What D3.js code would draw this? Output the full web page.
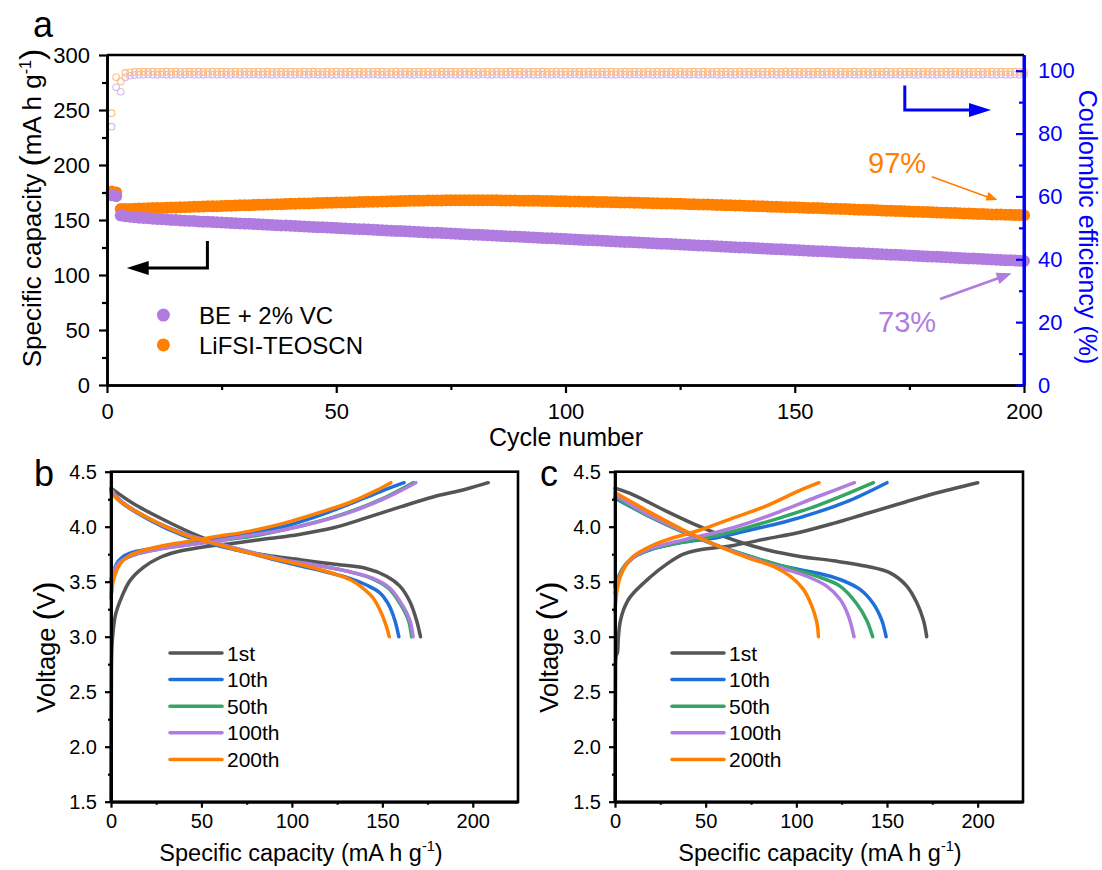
<!DOCTYPE html>
<html>
<head>
<meta charset="utf-8">
<script src="https://cdn.jsdelivr.net/npm/d3@7"></script>
<style>
  body { margin: 0; background: #fff; }
  text { font-family: "Liberation Sans", Arial, sans-serif; }
</style>
</head>
<body>
<svg id="fig" width="1102" height="870"></svg>
<script>
// ---------- panel a: cycling data ----------
var cycles = d3.range(1, 201);

var capBE = [
  172.5, 171.5, 154.0, 153.4, 152.9, 152.5, 152.1, 151.8, 151.5, 151.2,
  150.9, 150.6, 150.4, 150.1, 149.9, 149.6, 149.4, 149.2, 149.0, 148.7,
  148.5, 148.3, 148.1, 147.9, 147.7, 147.5, 147.3, 147.1, 146.9, 146.7,
  146.5, 146.3, 146.1, 145.9, 145.7, 145.5, 145.3, 145.1, 144.9, 144.7,
  144.5, 144.3, 144.1, 143.9, 143.7, 143.5, 143.3, 143.1, 142.9, 142.7,
  142.5, 142.3, 142.1, 141.9, 141.7, 141.5, 141.3, 141.1, 140.9, 140.7,
  140.5, 140.3, 140.1, 139.9, 139.7, 139.5, 139.3, 139.1, 138.9, 138.7,
  138.5, 138.3, 138.1, 137.9, 137.7, 137.5, 137.3, 137.1, 136.9, 136.7,
  136.5, 136.3, 136.1, 135.9, 135.7, 135.5, 135.3, 135.1, 134.9, 134.7,
  134.5, 134.3, 134.1, 133.9, 133.7, 133.5, 133.3, 133.1, 132.9, 132.7,
  132.5, 132.3, 132.1, 131.9, 131.7, 131.5, 131.3, 131.1, 130.9, 130.7,
  130.5, 130.3, 130.1, 129.9, 129.7, 129.5, 129.3, 129.1, 128.9, 128.7,
  128.5, 128.3, 128.1, 127.9, 127.7, 127.5, 127.3, 127.1, 126.9, 126.7,
  126.5, 126.3, 126.1, 125.9, 125.7, 125.5, 125.3, 125.1, 124.9, 124.7,
  124.5, 124.3, 124.1, 123.9, 123.7, 123.5, 123.3, 123.1, 122.9, 122.7,
  122.5, 122.3, 122.1, 121.9, 121.7, 121.5, 121.3, 121.1, 120.9, 120.7,
  120.5, 120.3, 120.1, 119.9, 119.7, 119.5, 119.3, 119.1, 118.9, 118.7,
  118.5, 118.3, 118.1, 117.9, 117.7, 117.5, 117.3, 117.1, 116.9, 116.7,
  116.5, 116.3, 116.1, 115.9, 115.7, 115.5, 115.3, 115.1, 114.9, 114.7,
  114.5, 114.3, 114.1, 113.9, 113.7, 113.5, 113.3, 113.1, 112.9, 112.7
];

var capLi = [
  176.0, 175.0, 160.0, 160.0, 160.1, 160.2, 160.4, 160.5, 160.6, 160.8,
  160.9, 161.0, 161.2, 161.3, 161.4, 161.6, 161.7, 161.8, 162.0, 162.1,
  162.2, 162.4, 162.5, 162.6, 162.8, 162.9, 163.0, 163.2, 163.3, 163.4,
  163.5, 163.7, 163.8, 163.9, 164.0, 164.2, 164.3, 164.4, 164.5, 164.7,
  164.8, 164.9, 165.0, 165.1, 165.3, 165.4, 165.5, 165.6, 165.7, 165.8,
  165.9, 166.0, 166.1, 166.2, 166.3, 166.4, 166.5, 166.6, 166.7, 166.8,
  166.9, 167.0, 167.1, 167.2, 167.3, 167.4, 167.4, 167.5, 167.6, 167.7,
  167.7, 167.8, 167.8, 167.9, 167.9, 168.0, 168.0, 168.0, 168.0, 168.0,
  168.0, 168.0, 167.9, 167.9, 167.9, 167.8, 167.8, 167.7, 167.7, 167.6,
  167.6, 167.5, 167.5, 167.4, 167.3, 167.3, 167.2, 167.1, 167.1, 167.0,
  166.9, 166.8, 166.8, 166.7, 166.6, 166.5, 166.4, 166.4, 166.3, 166.2,
  166.1, 166.0, 165.9, 165.8, 165.7, 165.6, 165.5, 165.4, 165.3, 165.2,
  165.1, 165.0, 164.9, 164.8, 164.7, 164.5, 164.4, 164.3, 164.2, 164.1,
  164.0, 163.8, 163.7, 163.6, 163.5, 163.3, 163.2, 163.1, 162.9, 162.8,
  162.7, 162.5, 162.4, 162.3, 162.1, 162.0, 161.9, 161.7, 161.6, 161.5,
  161.3, 161.2, 161.0, 160.9, 160.8, 160.6, 160.5, 160.3, 160.2, 160.0,
  159.9, 159.7, 159.6, 159.4, 159.3, 159.1, 159.0, 158.8, 158.7, 158.5,
  158.4, 158.2, 158.1, 157.9, 157.8, 157.6, 157.5, 157.3, 157.2, 157.0,
  156.9, 156.7, 156.6, 156.4, 156.3, 156.1, 156.0, 155.8, 155.7, 155.5,
  155.4, 155.3, 155.1, 155.0, 154.9, 154.8, 154.7, 154.6, 154.5, 154.4
];

var ceBE = [
  82.2, 94.7, 93.3, 97.9, 98.4, 98.6, 98.7, 98.7, 98.8, 98.7, 98.7, 98.8, 98.7, 98.7, 98.8, 98.7, 98.7, 98.8, 98.7, 98.7,
  98.7, 98.8, 98.7, 98.7, 98.8, 98.7, 98.7, 98.8, 98.7, 98.7, 98.7, 98.8, 98.7, 98.7, 98.8, 98.7, 98.7, 98.8, 98.7, 98.7,
  98.7, 98.8, 98.7, 98.7, 98.8, 98.7, 98.7, 98.8, 98.7, 98.7, 98.7, 98.8, 98.7, 98.7, 98.8, 98.7, 98.7, 98.8, 98.7, 98.7,
  98.7, 98.8, 98.7, 98.7, 98.8, 98.7, 98.7, 98.8, 98.7, 98.7, 98.7, 98.8, 98.7, 98.7, 98.8, 98.7, 98.7, 98.8, 98.7, 98.7,
  98.7, 98.8, 98.7, 98.7, 98.8, 98.7, 98.7, 98.8, 98.7, 98.7, 98.7, 98.8, 98.7, 98.7, 98.8, 98.7, 98.7, 98.8, 98.7, 98.7,
  98.7, 98.8, 98.7, 98.7, 98.8, 98.7, 98.7, 98.8, 98.7, 98.7, 98.7, 98.8, 98.7, 98.7, 98.8, 98.7, 98.7, 98.8, 98.7, 98.7,
  98.7, 98.8, 98.7, 98.7, 98.8, 98.7, 98.7, 98.8, 98.7, 98.7, 98.7, 98.8, 98.7, 98.7, 98.8, 98.7, 98.7, 98.8, 98.7, 98.7,
  98.7, 98.8, 98.7, 98.7, 98.8, 98.7, 98.7, 98.8, 98.7, 98.7, 98.7, 98.8, 98.7, 98.7, 98.8, 98.7, 98.7, 98.8, 98.7, 98.7,
  98.7, 98.8, 98.7, 98.7, 98.8, 98.7, 98.7, 98.8, 98.7, 98.7, 98.7, 98.8, 98.7, 98.7, 98.8, 98.7, 98.7, 98.8, 98.7, 98.7,
  98.7, 98.8, 98.7, 98.7, 98.8, 98.7, 98.7, 98.8, 98.7, 98.7, 98.7, 98.8, 98.7, 98.7, 98.8, 98.7, 98.7, 98.8, 98.7, 98.7
];

var ceLi = [
  86.5, 97.9, 96.6, 99.3, 99.5, 99.6, 99.6, 99.7, 99.6, 99.7, 99.6, 99.6, 99.7, 99.6, 99.7, 99.6, 99.6, 99.7, 99.6, 99.7,
  99.6, 99.6, 99.7, 99.6, 99.7, 99.6, 99.6, 99.7, 99.6, 99.7, 99.6, 99.6, 99.7, 99.6, 99.7, 99.6, 99.6, 99.7, 99.6, 99.7,
  99.6, 99.6, 99.7, 99.6, 99.7, 99.6, 99.6, 99.7, 99.6, 99.7, 99.6, 99.6, 99.7, 99.6, 99.7, 99.6, 99.6, 99.7, 99.6, 99.7,
  99.6, 99.6, 99.7, 99.6, 99.7, 99.6, 99.6, 99.7, 99.6, 99.7, 99.6, 99.6, 99.7, 99.6, 99.7, 99.6, 99.6, 99.7, 99.6, 99.7,
  99.6, 99.6, 99.7, 99.6, 99.7, 99.6, 99.6, 99.7, 99.6, 99.7, 99.6, 99.6, 99.7, 99.6, 99.7, 99.6, 99.6, 99.7, 99.6, 99.7,
  99.6, 99.6, 99.7, 99.6, 99.7, 99.6, 99.6, 99.7, 99.6, 99.7, 99.6, 99.6, 99.7, 99.6, 99.7, 99.6, 99.6, 99.7, 99.6, 99.7,
  99.6, 99.6, 99.7, 99.6, 99.7, 99.6, 99.6, 99.7, 99.6, 99.7, 99.6, 99.6, 99.7, 99.6, 99.7, 99.6, 99.6, 99.7, 99.6, 99.7,
  99.6, 99.6, 99.7, 99.6, 99.7, 99.6, 99.6, 99.7, 99.6, 99.7, 99.6, 99.6, 99.7, 99.6, 99.7, 99.6, 99.6, 99.7, 99.6, 99.7,
  99.6, 99.6, 99.7, 99.6, 99.7, 99.6, 99.6, 99.7, 99.6, 99.7, 99.6, 99.6, 99.7, 99.6, 99.7, 99.6, 99.6, 99.7, 99.6, 99.7,
  99.6, 99.6, 99.7, 99.6, 99.7, 99.6, 99.6, 99.7, 99.6, 99.7, 99.6, 99.6, 99.7, 99.6, 99.7, 99.6, 99.6, 99.7, 99.6, 99.7
];

var capTicks = [0, 50, 100, 150, 200, 250, 300];
var capMinor = [25, 75, 125, 175, 225, 275];
var cycTicks = [0, 50, 100, 150, 200];
var cycMinor = [25, 75, 125, 175];
var ceTicks = [0, 20, 40, 60, 80, 100];
var ceMinor = [10, 30, 50, 70, 90];

// ---------- panel b: BE + 2% VC voltage profiles [capacity, voltage] ----------
var bCh1 = [[0,1.5],[0.2,2.5],[0.4,2.85],[0.9,3.0],[2.5,3.2],[5.9,3.36],[10.5,3.51],[17.9,3.63],[27,3.72],[36,3.77],[49,3.81],[68,3.85],[86,3.89],[104,3.93],[123,3.99],[141,4.08],[160,4.18],[178,4.27],[196,4.34],[208.5,4.4]];
var bDis1 = [[0,4.35],[12.3,4.21],[30.8,4.05],[49.2,3.91],[67.6,3.8],[86,3.74],[104.4,3.7],[122.8,3.66],[141.2,3.62],[152.3,3.55],[159.7,3.46],[165.2,3.32],[168.9,3.15],[171.1,3.0]];
var bCh10 = [[0.3,3.4],[1,3.55],[3,3.66],[6,3.72],[10.5,3.76],[22,3.8],[40,3.85],[58,3.89],[77,3.94],[95,4.0],[113,4.09],[131,4.2],[149,4.32],[162,4.4]];
var bDis10 = [[0,4.33],[5,4.23],[21.5,4.06],[40,3.92],[58.4,3.83],[76.8,3.76],[95.2,3.68],[113.6,3.61],[132,3.53],[141.2,3.47],[148.6,3.4],[153.2,3.3],[156.9,3.15],[159.1,3.0]];
var bCh50 = [[0,3.5],[1.5,3.6],[5,3.68],[10.5,3.73],[21.5,3.78],[40,3.83],[58,3.87],[77,3.91],[95,3.97],[113,4.04],[131,4.13],[149.5,4.25],[167,4.4]];
var bDis50 = [[0,4.34],[5,4.24],[21.5,4.07],[40,3.94],[58.4,3.85],[76.8,3.77],[95.2,3.7],[113.6,3.65],[132,3.59],[144,3.53],[153.4,3.44],[159.8,3.3],[164.4,3.15],[166.2,3.0]];
var bCh100 = [[0,3.52],[1.5,3.6],[5,3.68],[10.5,3.73],[21.5,3.78],[40,3.83],[58,3.87],[77,3.92],[95,3.97],[113.6,4.04],[132,4.13],[150.5,4.25],[168.5,4.4]];
var bDis100 = [[0,4.34],[5,4.24],[21.5,4.07],[40,3.94],[58.4,3.85],[76.8,3.77],[95.2,3.7],[113.6,3.65],[132,3.59],[144.9,3.53],[154.2,3.44],[160.6,3.3],[165.2,3.15],[167,3.0]];
var bCh200 = [[0,3.35],[1.3,3.51],[5,3.66],[10.5,3.74],[21.5,3.8],[40,3.86],[58.4,3.91],[76.8,3.96],[95.2,4.03],[113.6,4.12],[132,4.22],[146.8,4.33],[154.7,4.4]];
var bDis200 = [[0,4.31],[5,4.23],[21.5,4.07],[40,3.93],[58.4,3.84],[76.8,3.76],[95.2,3.69],[113.6,3.62],[132,3.52],[139.4,3.44],[145,3.35],[149.6,3.21],[152.3,3.09],[153.8,3.0]];

// ---------- panel c: LiFSI-TEOSCN voltage profiles ----------
var cCh1 = [[0,1.5],[0.3,2.6],[0.6,2.82],[1.4,2.86],[1.8,2.98],[2.8,3.13],[4.6,3.24],[8.3,3.36],[19.3,3.54],[28.5,3.66],[37.7,3.75],[46.9,3.79],[65.3,3.83],[83.6,3.89],[102,3.95],[120.4,4.03],[138.8,4.12],[157.2,4.21],[175.6,4.3],[200,4.4]];
var cDis1 = [[0,4.35],[10.1,4.29],[28.5,4.14],[46.9,4.0],[65.3,3.88],[83.6,3.79],[102,3.73],[120.4,3.69],[138.8,3.64],[151.7,3.58],[160.9,3.46],[166.4,3.31],[170.1,3.15],[171.9,3.0]];
var cCh10 = [[0,3.47],[4.6,3.63],[10.1,3.72],[19.3,3.79],[37.7,3.86],[56.1,3.9],[74.5,3.97],[92.8,4.04],[111.2,4.13],[129.6,4.24],[150,4.4]];
var cDis10 = [[0,4.26],[19.3,4.09],[37.7,3.95],[56.1,3.83],[74.5,3.73],[92.8,3.64],[111.2,3.58],[124.1,3.52],[135.1,3.43],[142.5,3.3],[147.1,3.15],[149.5,3.0]];
var cCh50 = [[0,3.45],[4.6,3.63],[10.1,3.72],[19.3,3.79],[37.7,3.86],[56.1,3.92],[74.5,4.0],[92.8,4.09],[111.2,4.19],[129.6,4.31],[142.5,4.4]];
var cDis50 = [[0,4.27],[19.3,4.09],[37.7,3.95],[56.1,3.83],[74.5,3.73],[92.8,3.64],[111.2,3.55],[124.1,3.46],[133.3,3.3],[138.8,3.15],[142.1,3.0]];
var cCh100 = [[0,3.4],[4.6,3.62],[10.1,3.72],[19.3,3.8],[37.7,3.88],[56.1,3.95],[74.5,4.04],[92.8,4.15],[111.2,4.27],[132,4.4]];
var cDis100 = [[0,4.29],[19.3,4.1],[37.7,3.96],[56.1,3.83],[74.5,3.72],[92.8,3.62],[105.7,3.55],[116.7,3.46],[124.1,3.34],[128.7,3.19],[131.8,3.0]];
var cCh200 = [[0,3.23],[1.8,3.48],[4.6,3.61],[10.1,3.73],[19.3,3.82],[28.5,3.88],[46.9,3.97],[65.3,4.08],[83.6,4.19],[102,4.33],[112.5,4.4]];
var cDis200 = [[0,4.31],[19.3,4.13],[37.7,3.97],[56.1,3.83],[74.5,3.71],[87.4,3.64],[96.6,3.55],[103.9,3.43],[108.5,3.28],[111.3,3.13],[112.2,3.0]];

var cycleNames = ["1st", "10th", "50th", "100th", "200th"];
var cycleColors = ["#555555", "#1f6fdb", "#35a566", "#b07ce0", "#ff8000"];
var vTicks = [1.5, 2.0, 2.5, 3.0, 3.5, 4.0, 4.5];
var vMinor = [1.75, 2.25, 2.75, 3.25, 3.75, 4.25];
var sTicks = [0, 50, 100, 150, 200];
var sMinor = [25, 75, 125, 175];

var bCurves = [[bCh1, bDis1], [bCh10, bDis10], [bCh50, bDis50], [bCh100, bDis100], [bCh200, bDis200]];
var cCurves = [[cCh1, cDis1], [cCh10, cDis10], [cCh50, cDis50], [cCh100, cDis100], [cCh200, cDis200]];

var purple = "#b07ce0", orange = "#ff8000", blue = "#0000ff";

var svg = d3.select("#fig");

function styleAxis(g, fs, color) {
  color = color || "#000";
  g.selectAll("path.domain").attr("stroke", color).attr("stroke-width", 2.6);
  g.selectAll(".tick line").attr("stroke", color).attr("stroke-width", 2.2);
  g.selectAll("text").attr("font-size", fs).attr("fill", color)
    .attr("font-family", "'Liberation Sans', Arial, sans-serif");
}

// axis title with big parentheses, e.g. "Voltage (V)"
function parenTitle(t, before, inside, sup) {
  t.append("tspan").text(before + " ");
  t.append("tspan").attr("font-size", "1.3em").attr("dy", 2).text("(");
  t.append("tspan").attr("dy", -2).text(inside);
  if (sup) {
    t.append("tspan").attr("dy", -10).attr("font-size", "0.62em").text(sup);
    t.append("tspan").attr("dy", 12).attr("font-size", "1.3em").text(")");
  } else {
    t.append("tspan").attr("dy", 2).attr("font-size", "1.3em").text(")");
  }
}

function arrowHead(g, x, y, angle, len, half, color) {
  g.append("path")
    .attr("d", "M0,0 L" + (-len) + "," + (-half) + " L" + (-len) + "," + half + "Z")
    .attr("transform", "translate(" + x + "," + y + ") rotate(" + angle + ")")
    .attr("fill", color);
}

// ================= panel a =================
var xA = d3.scaleLinear().domain([0, 200]).range([107, 1024]);
var yA = d3.scaleLinear().domain([0, 300]).range([385, 55]);
var yCE = d3.scaleLinear().domain([0, 105]).range([385, 55]);

var gA = svg.append("g");

// coulombic efficiency (open circles)
gA.append("g").selectAll("circle").data(cycles).enter().append("circle")
  .attr("cx", function (d) { return xA(d); })
  .attr("cy", function (d, i) { return yCE(ceBE[i]); })
  .attr("r", 3.3).attr("fill", "none").attr("stroke", "#d4b9f2").attr("stroke-width", 1.1);
gA.append("g").selectAll("circle").data(cycles).enter().append("circle")
  .attr("cx", function (d) { return xA(d); })
  .attr("cy", function (d, i) { return yCE(ceLi[i]); })
  .attr("r", 3.3).attr("fill", "none").attr("stroke", "#ffbd7d").attr("stroke-width", 1.1);

// specific capacity (filled circles)
gA.append("g").selectAll("circle").data(cycles).enter().append("circle")
  .attr("cx", function (d) { return xA(d); })
  .attr("cy", function (d, i) { return yA(capLi[i]); })
  .attr("r", 6).attr("fill", orange);
gA.append("g").selectAll("circle").data(cycles).enter().append("circle")
  .attr("cx", function (d) { return xA(d); })
  .attr("cy", function (d, i) { return yA(capBE[i]); })
  .attr("r", 6).attr("fill", purple);

// frame top
gA.append("line").attr("x1", 107).attr("x2", 1024).attr("y1", 55).attr("y2", 55)
  .attr("stroke", "#000").attr("stroke-width", 2.6);

// axes
var axL = gA.append("g").attr("transform", "translate(107,0)")
  .call(d3.axisLeft(yA).tickValues(capTicks).tickSize(8).tickPadding(9).tickSizeOuter(0));
styleAxis(axL, 22);
var axLm = gA.append("g").attr("transform", "translate(107,0)")
  .call(d3.axisLeft(yA).tickValues(capMinor).tickSize(5).tickFormat("").tickSizeOuter(0));
styleAxis(axLm, 22);

var axB = gA.append("g").attr("transform", "translate(0,385)")
  .call(d3.axisBottom(xA).tickValues(cycTicks).tickSize(8).tickPadding(10).tickSizeOuter(0));
styleAxis(axB, 22);
var axBm = gA.append("g").attr("transform", "translate(0,385)")
  .call(d3.axisBottom(xA).tickValues(cycMinor).tickSize(5).tickFormat("").tickSizeOuter(0));
styleAxis(axBm, 22);

var axR = gA.append("g").attr("transform", "translate(1024,0)")
  .call(d3.axisRight(yCE).tickValues(ceTicks).tickSize(-8).tickPadding(14).tickSizeOuter(0));
styleAxis(axR, 22, blue);
var axRm = gA.append("g").attr("transform", "translate(1024,0)")
  .call(d3.axisRight(yCE).tickValues(ceMinor).tickSize(-5).tickFormat("").tickSizeOuter(0));
styleAxis(axRm, 22, blue);
gA.append("line").attr("x1", 1024).attr("x2", 1024).attr("y1", 55).attr("y2", 385)
  .attr("stroke", blue).attr("stroke-width", 3);

// titles
gA.append("text").attr("x", 566).attr("y", 446).attr("text-anchor", "middle")
  .attr("font-size", 25).text("Cycle number");
parenTitle(gA.append("text").attr("transform", "translate(41,208) rotate(-90)")
  .attr("text-anchor", "middle").attr("font-size", 26), "Specific capacity", "mA h g", "-1");
gA.append("text").attr("transform", "translate(1079,227) rotate(90)")
  .attr("text-anchor", "middle").attr("font-size", 25).attr("fill", blue)
  .text("Coulombic efficiency (%)");
gA.append("text").attr("x", 33).attr("y", 37).attr("font-size", 36).text("a");

// legend
var legA = [["BE + 2% VC", purple, 63.6], ["LiFSI-TEOSCN", orange, 36.4]];
legA.forEach(function (d) {
  gA.append("circle").attr("cx", xA(12.3)).attr("cy", yA(d[2])).attr("r", 6.5).attr("fill", d[1]);
  gA.append("text").attr("x", 199).attr("y", yA(d[2]) + 9).attr("font-size", 24).text(d[0]);
});

// direction arrows
gA.append("path").attr("fill", "none").attr("stroke", "#000").attr("stroke-width", 3)
  .attr("d", "M" + xA(21.9) + "," + yA(131) + "V" + yA(106.4) + "H" + xA(8));
arrowHead(gA, xA(4.3), yA(106.4), 180, 22, 7, "#000");
gA.append("path").attr("fill", "none").attr("stroke", blue).attr("stroke-width", 3)
  .attr("d", "M" + xA(174) + "," + yCE(95.3) + "V" + yCE(87.5) + "H" + xA(189));
arrowHead(gA, xA(192.8), yCE(87.5), 0, 22, 7, blue);

// retention annotations
gA.append("text").attr("x", 868).attr("y", 173).attr("font-size", 29).attr("fill", orange).text("97%");
gA.append("line").attr("x1", xA(179.9)).attr("y1", yA(189.4)).attr("x2", xA(192.5)).attr("y2", yA(170.2))
  .attr("stroke", orange).attr("stroke-width", 1.6);
arrowHead(gA, xA(194.2), yA(168.2), Math.atan2(23.3, 65) * 180 / Math.PI, 11, 4.5, orange);

gA.append("text").attr("x", 878).attr("y", 332).attr("font-size", 29).attr("fill", purple).text("73%");
gA.append("line").attr("x1", xA(181.7)).attr("y1", yA(78.2)).attr("x2", xA(194.5)).attr("y2", yA(97.3))
  .attr("stroke", purple).attr("stroke-width", 2.6);
arrowHead(gA, xA(197.3), yA(101.5), -Math.atan2(25.7, 71.7) * 180 / Math.PI, 15, 6, purple);

// ================= panels b, c =================
var yV = d3.scaleLinear().domain([1.5, 4.5]).range([801.7, 471.7]);

function voltagePanel(x0, x1, curves, letter, letterX, titleX, xTitleX, legX) {
  var x = d3.scaleLinear().domain([0, 225]).range([x0, x1]);
  var g = svg.append("g");
  var line = d3.line()
    .x(function (d) { return x(d[0]); })
    .y(function (d) { return yV(d[1]); })
    .curve(d3.curveCatmullRom.alpha(0.5));

  curves.forEach(function (pair, i) {
    pair.forEach(function (pts) {
      g.append("path").attr("d", line(pts)).attr("fill", "none")
        .attr("stroke", cycleColors[i]).attr("stroke-width", 3.5)
        .attr("stroke-linecap", "round").attr("stroke-linejoin", "round");
    });
  });

  g.append("rect").attr("x", x0).attr("y", yV(4.5)).attr("width", x1 - x0).attr("height", yV(1.5) - yV(4.5))
    .attr("fill", "none").attr("stroke", "#000").attr("stroke-width", 2.6);

  var aL = g.append("g").attr("transform", "translate(" + x0 + ",0)")
    .call(d3.axisLeft(yV).tickValues(vTicks).tickFormat(d3.format(".1f")).tickSize(6).tickPadding(8).tickSizeOuter(0));
  styleAxis(aL, 20);
  var aLm = g.append("g").attr("transform", "translate(" + x0 + ",0)")
    .call(d3.axisLeft(yV).tickValues(vMinor).tickFormat("").tickSize(3).tickSizeOuter(0));
  styleAxis(aLm, 20);
  var aB = g.append("g").attr("transform", "translate(0," + yV(1.5) + ")")
    .call(d3.axisBottom(x).tickValues(sTicks).tickSize(6).tickPadding(6).tickSizeOuter(0));
  styleAxis(aB, 20);
  var aBm = g.append("g").attr("transform", "translate(0," + yV(1.5) + ")")
    .call(d3.axisBottom(x).tickValues(sMinor).tickFormat("").tickSize(3).tickSizeOuter(0));
  styleAxis(aBm, 20);

  var xt = g.append("text").attr("x", xTitleX).attr("y", 861)
    .attr("text-anchor", "middle").attr("font-size", 23.5);
  xt.append("tspan").text("Specific capacity (mA h g");
  xt.append("tspan").attr("dy", -10).attr("font-size", "0.62em").text("-1");
  xt.append("tspan").attr("dy", 10).text(")");

  parenTitle(g.append("text").attr("transform", "translate(" + titleX + ",647) rotate(-90)")
    .attr("text-anchor", "middle").attr("font-size", 25.5), "Voltage", "V");
  g.append("text").attr("x", letterX).attr("y", 486).attr("font-size", 36).text(letter);

  cycleNames.forEach(function (n, i) {
    var ly = 653 + i * 26.6;
    g.append("line").attr("x1", legX).attr("x2", legX + 52).attr("y1", ly).attr("y2", ly)
      .attr("stroke", cycleColors[i]).attr("stroke-width", 3.5).attr("stroke-linecap", "round");
    g.append("text").attr("x", legX + 57).attr("y", ly + 7.5).attr("font-size", 21).text(n);
  });
}

voltagePanel(111, 518, bCurves, "b", 34, 55, 301, 170);
voltagePanel(615, 1023, cCurves, "c", 540, 558, 820, 672);
</script>
</body>
</html>
